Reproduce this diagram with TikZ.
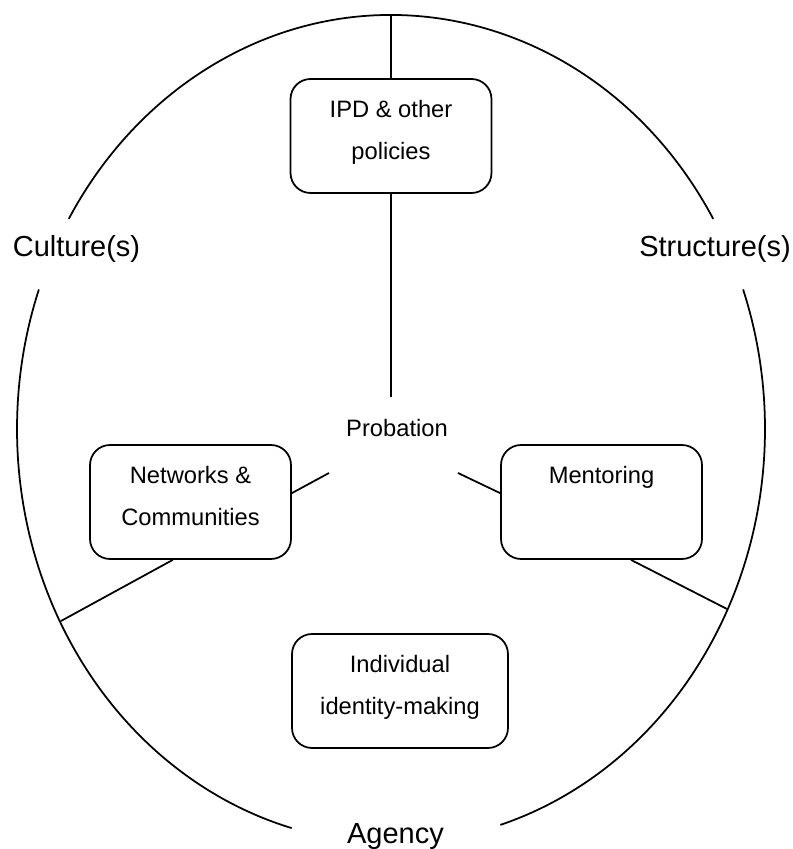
\documentclass[tikz,border=0pt]{standalone}
\usepackage{fontspec}
\setmainfont{Liberation Sans}
\usetikzlibrary{positioning}

\begin{document}
\begin{tikzpicture}[x=0.02cm, y=0.02cm, line width=1pt,
        theme/.style={anchor=base, font=\fontsize{16.5}{20}\selectfont},
        boxtext/.style={font=\fontsize{13.5}{23.9}\selectfont},
        topic/.style={draw=black, rounded corners=0.4cm, boxtext,
            align=center, minimum width=4.02cm, minimum height=2.28cm,
            inner sep=0pt}]
        \useasboundingbox (0, 0) rectangle (792, 849);
        % draw ring, broken at the three labels
        \coordinate (centre) at (391, 420);
        \draw (centre) ++(30.5:374 and 414)
            arc[start angle=30.5, end angle=149.5, x radius=374, y radius=414];
        \draw (centre) ++(160.3:374 and 414)
            arc[start angle=160.3, end angle=254.6, x radius=374, y radius=414];
        \draw (centre) ++(287:374 and 414)
            arc[start angle=287, end angle=379.7, x radius=374, y radius=414];
        % labels on the ring
        \node[theme] (culture) at (76.5, 592) {Culture(s)};
        \node[theme] (structure) at (715, 592) {Structure(s)};
        \node[theme] (agency) at (395.5, 6) {Agency};
        % boxes
        \node[topic] (ipd) at (391, 713) {IPD \& other\\policies\strut};
        \node[topic] (networks) at (190.5, 347) {Networks \&\\Communities\strut};
        \node[topic] (mentoring) at (601.5, 347) {Mentoring\\\strut};
        \node[topic, minimum width=4.32cm] (identity) at (400, 158)
            {Individual\\identity-making\strut};
        \node[boxtext, anchor=base] (probation) at (397, 412) {Probation};
        % spokes
        \coordinate (rim-top) at (391, 834);
        \coordinate (rim-left) at (61, 228);
        \coordinate (rim-right) at (727, 240);
        \coordinate (hub-top) at (391, 452);
        \coordinate (hub-left) at (329, 376);
        \coordinate (hub-right) at (458, 376);
        \draw (rim-top) -- (ipd.north);
        \draw (ipd.south) -- (hub-top);
        \draw (rim-left) -- (networks.253);
        \draw (networks.5) -- (hub-left);
        \draw (rim-right) -- (mentoring.297);
        \draw (mentoring.175) -- (hub-right);
    \end{tikzpicture}
\end{document}
